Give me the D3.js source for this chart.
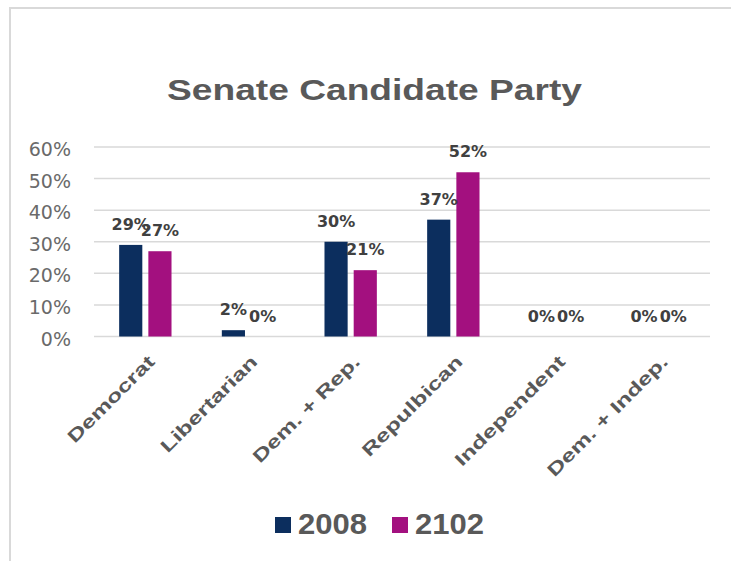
<!DOCTYPE html>
<html>
<head>
<meta charset="utf-8">
<script src="https://cdn.jsdelivr.net/npm/d3@7"></script>
<style>
  html, body { margin: 0; padding: 0; background: #fff; }
  svg { display: block; }
</style>
</head>
<body>
<svg id="chart" width="731" height="561"></svg>
<script>
const categories = ["Democrat", "Libertarian", "Dem. + Rep.", "Repulbican", "Independent", "Dem. + Indep."];
const seriesNames = ["2008", "2102"];
const values2008 = [0.29, 0.02, 0.30, 0.37, 0.00, 0.00];
const values2102 = [0.27, 0.00, 0.21, 0.52, 0.00, 0.00];
const yTicks = [0, 0.1, 0.2, 0.3, 0.4, 0.5, 0.6];
const colors = ["#0c2e5e", "#a3107f"];
const title = "Senate Candidate Party";

const seriesValues = [values2008, values2102];
const data = categories.map((c, i) => ({
  cat: c,
  vals: seriesNames.map((s, j) => ({ series: s, value: seriesValues[j][i], idx: j }))
}));

const svg = d3.select("#chart");

// outer frame
svg.append("rect")
  .attr("x", 10).attr("y", 8).attr("width", 800).attr("height", 600)
  .attr("fill", "none").attr("stroke", "#d9d9d9").attr("stroke-width", 2);

const plotLeft = 94, plotRight = 710, plotTop = 147, plotBottom = 336.5;

const y = d3.scaleLinear().domain([0, 0.6]).range([plotBottom, plotTop]);
const x0 = d3.scaleBand().domain(categories).range([plotLeft, plotRight])
  .paddingInner(0.49).paddingOuter(0.245);
const x1 = d3.scaleBand().domain(seriesNames).range([0, x0.bandwidth()])
  .paddingInner(0.207).paddingOuter(0);
const color = d3.scaleOrdinal().domain(seriesNames).range(colors);

// gridlines
svg.append("g").selectAll("line").data(yTicks).join("line")
  .attr("x1", plotLeft).attr("x2", plotRight)
  .attr("y1", d => y(d)).attr("y2", d => y(d))
  .attr("stroke", "#d9d9d9").attr("stroke-width", 1.5);

// y axis labels
const yAxis = d3.axisLeft(y).tickValues(yTicks).tickFormat(d3.format(".0%")).tickSize(0).tickPadding(0);
const gy = svg.append("g").attr("transform", "translate(71,0)").call(yAxis);
gy.select(".domain").remove();
gy.selectAll("text")
  .attr("font-family", "'DejaVu Sans', sans-serif")
  .attr("font-size", 19)
  .attr("fill", "#6a6a6a")
  .attr("dy", "0.45em");

// bars
const groups = svg.append("g").selectAll("g").data(data).join("g")
  .attr("transform", d => `translate(${x0(d.cat)},0)`);
groups.selectAll("rect").data(d => d.vals).join("rect")
  .attr("x", d => x1(d.series))
  .attr("width", x1.bandwidth())
  .attr("y", d => y(d.value))
  .attr("height", d => y(0) - y(d.value))
  .attr("fill", d => color(d.series));

// data labels
groups.selectAll("text").data(d => d.vals).join("text")
  .attr("x", d => x1(d.series) + x1.bandwidth() / 2)
  .attr("y", d => y(d.value) - 15)
  .attr("text-anchor", "middle")
  .attr("font-family", "'DejaVu Sans', sans-serif")
  .attr("font-weight", "bold")
  .attr("font-size", 16)
  .attr("fill", "#404040")
  .text(d => d3.format(".0%")(d.value));

// x axis labels (rotated)
const xAxis = d3.axisBottom(x0).tickSize(0).tickPadding(0);
const gx = svg.append("g").attr("transform", `translate(0,${plotBottom})`).call(xAxis);
gx.select(".domain").remove();
gx.selectAll("text")
  .attr("font-family", "'Liberation Sans', Arial, sans-serif")
  .attr("font-weight", "bold")
  .attr("font-size", 18)
  .attr("fill", "#595959")
  .attr("text-anchor", "end")
  .attr("dy", "0.35em")
  .attr("transform", "translate(6,22) rotate(-45)")
  .each(function () {
    const len = this.getComputedTextLength();
    d3.select(this).attr("textLength", len * 1.38).attr("lengthAdjust", "spacingAndGlyphs");
  });

// title
svg.append("text")
  .attr("x", 374.5).attr("y", 99.5)
  .attr("text-anchor", "middle")
  .attr("font-family", "'Liberation Sans', Arial, sans-serif")
  .attr("font-weight", "bold")
  .attr("font-size", 30)
  .attr("fill", "#595959")
  .attr("textLength", 415).attr("lengthAdjust", "spacingAndGlyphs")
  .text(title);

// legend
const legendX = [275, 392];
const legend = svg.append("g").selectAll("g").data(seriesNames).join("g")
  .attr("transform", (d, i) => `translate(${legendX[i]},517)`);
legend.append("rect").attr("width", 16).attr("height", 16).attr("fill", d => color(d));
legend.append("text")
  .attr("x", 23).attr("y", 16.5)
  .attr("font-family", "'Liberation Sans', Arial, sans-serif")
  .attr("font-weight", "bold")
  .attr("font-size", 29)
  .attr("fill", "#595959")
  .attr("textLength", 69).attr("lengthAdjust", "spacingAndGlyphs")
  .text(d => d);
</script>
</body>
</html>
